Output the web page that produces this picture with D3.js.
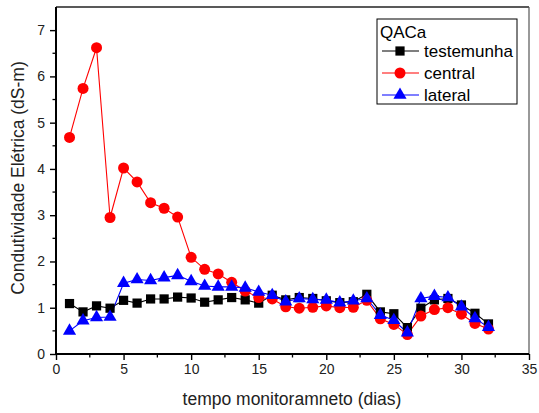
<!DOCTYPE html>
<html><head><meta charset="utf-8">
<script src="https://cdn.jsdelivr.net/npm/d3@7"></script>
<style>body{margin:0;background:#fff}svg{display:block;font-family:Arial,"Liberation Sans",sans-serif}</style>
</head><body><svg id="c" width="539" height="413"></svg>
<script>
const days = d3.range(1, 33);
const testemunha = [1.09,0.91,1.04,0.99,1.16,1.10,1.19,1.19,1.23,1.21,1.12,1.17,1.22,1.17,1.10,1.27,1.17,1.22,1.20,1.15,1.11,1.13,1.29,0.91,0.87,0.57,0.99,1.17,1.20,1.06,0.88,0.65];
const central = [4.68,5.74,6.62,2.95,4.02,3.72,3.27,3.15,2.96,2.09,1.83,1.73,1.55,1.36,1.22,1.19,1.02,0.99,1.01,1.04,1.00,1.01,1.16,0.76,0.64,0.42,0.82,0.96,1.00,0.86,0.66,0.54];
const lateral = [0.50,0.72,0.79,0.80,1.53,1.61,1.59,1.65,1.70,1.57,1.47,1.45,1.45,1.43,1.34,1.27,1.13,1.20,1.18,1.17,1.11,1.15,1.20,0.84,0.73,0.46,1.20,1.25,1.22,1.02,0.77,0.58];
const xTicks = [0,5,10,15,20,25,30,35];
const yTicks = [0,1,2,3,4,5,6,7];
const seriesNames = ["testemunha","central","lateral"];
const seriesColors = ["#000000","#ff0000","#0000ff"];
const legendTitle = "QACa";

const svg = d3.select("#c");
const L = 56, R = 529, T = 7, B = 354;
const x = d3.scaleLinear().domain([0,35]).range([L,R]);
const y = d3.scaleLinear().domain([0,7.5]).range([B,T]);

// frame top/right
svg.append("line").attr("x1",L).attr("x2",R).attr("y1",T).attr("y2",T).attr("stroke","#222").attr("stroke-width",1.5);
svg.append("line").attr("x1",R).attr("x2",R).attr("y1",T).attr("y2",B).attr("stroke","#555").attr("stroke-width",1.2);

// minor ticks
const xMinor = d3.range(2.5,35,5);
const yMinor = d3.range(0.5,7.5,1);
svg.append("g").selectAll("line").data(xMinor).join("line")
  .attr("x1",d=>x(d)).attr("x2",d=>x(d)).attr("y1",B).attr("y2",B+3.5).attr("stroke","#000").attr("stroke-width",1.3);
svg.append("g").selectAll("line").data(yMinor).join("line")
  .attr("x1",L).attr("x2",L-3.5).attr("y1",d=>y(d)).attr("y2",d=>y(d)).attr("stroke","#000").attr("stroke-width",1.3);

const xAxis = svg.append("g").attr("transform",`translate(0,${B})`)
  .call(d3.axisBottom(x).tickValues(xTicks).tickSize(6).tickPadding(4).tickSizeOuter(0));
const yAxis = svg.append("g").attr("transform",`translate(${L},0)`)
  .call(d3.axisLeft(y).tickValues(yTicks).tickSize(6).tickPadding(5).tickSizeOuter(0));
[xAxis,yAxis].forEach(a=>{
  a.select(".domain").attr("stroke","#000").attr("stroke-width",2);
  a.selectAll(".tick line").attr("stroke","#000").attr("stroke-width",1.4);
  a.selectAll("text").attr("font-size",14).attr("fill","#222").attr("font-family","Arial, 'Liberation Sans', sans-serif");
});
yAxis.select(".domain").attr("d",`M0,${B+1}V${T}`);
xAxis.select(".domain").attr("d",`M${L-1},0H${R}`);

svg.append("text").attr("x",292).attr("y",405).attr("text-anchor","middle")
  .attr("font-size",17.5).attr("fill","#222").text("tempo monitoramneto (dias)");
svg.append("text").attr("transform",`translate(24,178) rotate(-90)`).attr("text-anchor","middle")
  .attr("font-size",17.5).attr("fill","#222").text("Condutividade Elétrica (dS-m)");

const allData = [testemunha, central, lateral];
const line = d3.line().x((d,i)=>x(days[i])).y(d=>y(d));
const sq = d3.symbol().type(d3.symbolSquare).size(85);
const ci = d3.symbol().type(d3.symbolCircle).size(95);
const tr = d3.symbol().type(d3.symbolTriangle).size(75);
const syms = [sq, ci, tr];

allData.forEach((vals,k)=>{
  svg.append("path").datum(vals).attr("d",line).attr("fill","none").attr("stroke",seriesColors[k]).attr("stroke-width",1.1);
});
allData.forEach((vals,k)=>{
  svg.append("g").selectAll("path").data(vals).join("path")
    .attr("d",syms[k]).attr("transform",(d,i)=>`translate(${x(days[i])},${y(d)})`)
    .attr("fill",seriesColors[k]);
});

// legend
const lg = svg.append("g");
lg.append("rect").attr("x",377).attr("y",19).attr("width",140).attr("height",85)
  .attr("fill","#fff").attr("stroke","#000").attr("stroke-width",1);
lg.append("text").attr("x",380).attr("y",38).attr("font-size",17).attr("fill","#000").text(legendTitle);
seriesNames.forEach((n,k)=>{
  const yy = 51 + k*22;
  lg.append("line").attr("x1",382).attr("x2",419).attr("y1",yy).attr("y2",yy).attr("stroke",seriesColors[k]).attr("stroke-width",1.1);
  lg.append("path").attr("d",syms[k]).attr("transform",`translate(400,${yy})`).attr("fill",seriesColors[k]);
  lg.append("text").attr("x",424).attr("y",yy+6).attr("font-size",17).attr("fill","#000").text(n);
});
</script></body></html>
